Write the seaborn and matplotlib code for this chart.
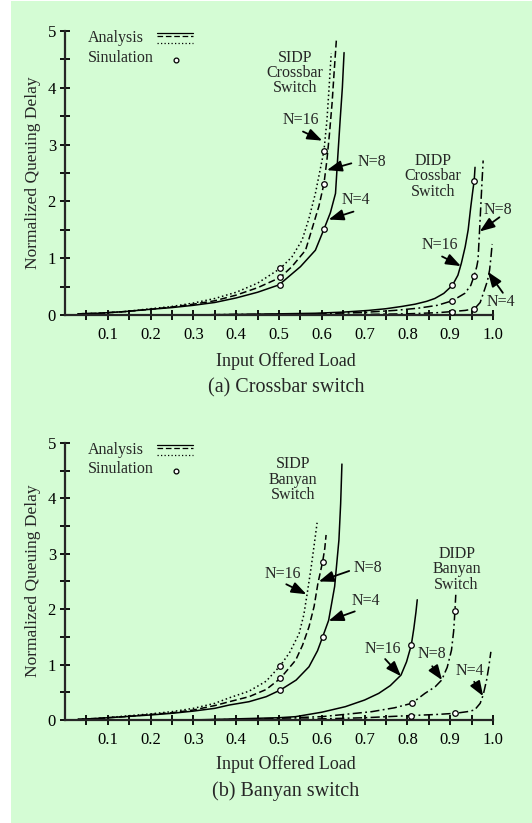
import numpy as np
import pandas as pd
import matplotlib
matplotlib.use('Agg')
import matplotlib.pyplot as plt
import seaborn as sns
from matplotlib.patches import Rectangle

# ── data ─────────────────────────────────────────────────────────
# (a) crossbar switch, SIDP analysis curves
xa_s4_x = [0.03, 0.08, 0.14, 0.2, 0.25, 0.3, 0.35, 0.4, 0.45, 0.5, 0.55, 0.585, 0.605, 0.62, 0.632, 0.637, 0.643, 0.648, 0.652]
xa_s4_y = [0.02, 0.03, 0.06, 0.10, 0.13, 0.17, 0.22, 0.30, 0.40, 0.53, 0.85, 1.14, 1.51, 1.80, 2.14, 2.75, 3.45, 4.0, 4.62]
xa_s8_x = [0.03, 0.08, 0.14, 0.2, 0.25, 0.3, 0.35, 0.4, 0.45, 0.503, 0.53, 0.562, 0.593, 0.605, 0.612, 0.618, 0.624, 0.629, 0.634]
xa_s8_y = [0.02, 0.03, 0.06, 0.10, 0.14, 0.19, 0.25, 0.35, 0.48, 0.66, 0.85, 1.14, 1.91, 2.31, 2.73, 3.2, 3.73, 4.3, 4.84]
xa_s16_x = [0.03, 0.08, 0.14, 0.2, 0.25, 0.3, 0.35, 0.4, 0.45, 0.503, 0.53, 0.554, 0.57, 0.585, 0.605, 0.612, 0.617, 0.622]
xa_s16_y = [0.02, 0.03, 0.06, 0.11, 0.15, 0.21, 0.29, 0.40, 0.56, 0.82, 1.02, 1.32, 1.7, 2.14, 2.89, 3.43, 4.0, 4.61]
# (a) crossbar switch, DIDP analysis curves
xa_d16_x = [0.3, 0.4, 0.5, 0.585, 0.65, 0.709, 0.75, 0.787, 0.818, 0.845, 0.864, 0.885, 0.905, 0.918, 0.926, 0.935, 0.942, 0.948, 0.953, 0.956, 0.958]
xa_d16_y = [0.0, 0.01, 0.02, 0.03, 0.05, 0.08, 0.11, 0.15, 0.19, 0.24, 0.29, 0.38, 0.52, 0.7, 0.91, 1.2, 1.5, 1.9, 2.2, 2.36, 2.6]
xa_d8_x = [0.3, 0.4, 0.5, 0.6, 0.709, 0.77, 0.826, 0.87, 0.905, 0.934, 0.948, 0.956, 0.962, 0.965, 0.968, 0.971, 0.974, 0.977]
xa_d8_y = [0.0, 0.01, 0.01, 0.02, 0.05, 0.08, 0.12, 0.17, 0.25, 0.38, 0.52, 0.69, 0.85, 0.97, 1.4, 1.85, 2.3, 2.72]
xa_d4_x = [0.3, 0.5, 0.7, 0.8, 0.87, 0.905, 0.935, 0.957, 0.97, 0.98, 0.987, 0.992, 0.995, 0.998]
xa_d4_y = [0.0, 0.0, 0.01, 0.02, 0.04, 0.06, 0.08, 0.11, 0.22, 0.44, 0.6, 0.79, 1.0, 1.25]
# (a) simulation points
xa_sim_sidp_x = [0.503, 0.605]
xa_sim_s16 = [0.82, 2.89]
xa_sim_s8 = [0.66, 2.31]
xa_sim_s4 = [0.52, 1.51]
xa_sim_didp_x = [0.905, 0.956]
xa_sim_d16 = [0.52, 2.36]
xa_sim_d8 = [0.25, 0.69]
xa_sim_d4 = [0.06, 0.11]

# (b) banyan switch, SIDP analysis curves
bn_s4_x = [0.03, 0.08, 0.14, 0.2, 0.25, 0.3, 0.35, 0.384, 0.43, 0.47, 0.503, 0.54, 0.57, 0.59, 0.602, 0.616, 0.63, 0.64, 0.644, 0.647]
bn_s4_y = [0.01, 0.03, 0.06, 0.09, 0.12, 0.16, 0.21, 0.27, 0.33, 0.42, 0.54, 0.72, 0.96, 1.25, 1.50, 1.8, 2.41, 3.25, 3.9, 4.62]
bn_s8_x = [0.03, 0.08, 0.14, 0.2, 0.25, 0.3, 0.35, 0.384, 0.43, 0.47, 0.503, 0.539, 0.555, 0.57, 0.582, 0.591, 0.602, 0.607, 0.61]
bn_s8_y = [0.01, 0.03, 0.06, 0.10, 0.13, 0.18, 0.26, 0.33, 0.42, 0.55, 0.75, 1.08, 1.35, 1.68, 2.05, 2.47, 2.86, 3.1, 3.34]
bn_s16_x = [0.03, 0.08, 0.14, 0.2, 0.25, 0.3, 0.35, 0.384, 0.43, 0.47, 0.503, 0.525, 0.547, 0.558, 0.566, 0.575, 0.582, 0.589]
bn_s16_y = [0.01, 0.03, 0.07, 0.11, 0.15, 0.21, 0.30, 0.40, 0.52, 0.70, 0.98, 1.22, 1.56, 1.9, 2.29, 2.75, 3.15, 3.56]
# (b) banyan switch, DIDP analysis curves
bn_d16_x = [0.3, 0.4, 0.5, 0.539, 0.6, 0.655, 0.7, 0.733, 0.76, 0.785, 0.798, 0.809, 0.815, 0.82, 0.823]
bn_d16_y = [0.0, 0.02, 0.04, 0.06, 0.14, 0.24, 0.36, 0.48, 0.62, 0.81, 1.05, 1.35, 1.65, 1.95, 2.17]
bn_d8_x = [0.3, 0.4, 0.5, 0.6, 0.64, 0.717, 0.77, 0.81, 0.841, 0.865, 0.88, 0.893, 0.903, 0.908, 0.911, 0.913]
bn_d8_y = [0.0, 0.01, 0.03, 0.06, 0.09, 0.15, 0.22, 0.3, 0.48, 0.6, 0.72, 0.95, 1.26, 1.6, 1.96, 2.26]
bn_d4_x = [0.3, 0.5, 0.6, 0.7, 0.809, 0.87, 0.912, 0.94, 0.957, 0.97, 0.977, 0.985, 0.99, 0.995]
bn_d4_y = [0.0, 0.01, 0.02, 0.04, 0.08, 0.1, 0.12, 0.15, 0.18, 0.3, 0.45, 0.72, 0.95, 1.23]
# (b) simulation points
bn_sim_x = [0.503, 0.503, 0.503, 0.602, 0.602, 0.809, 0.81, 0.809, 0.911, 0.912]
bn_sim_y = [0.98, 0.75, 0.54, 2.86, 1.50, 1.35, 0.30, 0.08, 1.96, 0.12]

# axis ticks
x_major = [0.1, 0.2, 0.3, 0.4, 0.5, 0.6, 0.7, 0.8, 0.9, 1.0]
x_labels = ['0.1', '0.2', '0.3', '0.4', '0.5', '0.6', '0.7', '0.8', '0.9', '1.0']
x_minor = [0.05, 0.15, 0.25, 0.35, 0.45, 0.55, 0.65, 0.75, 0.85, 0.95]
y_major = [0, 1, 2, 3, 4, 5]
y_minor = [0.5, 1.5, 2.5, 3.5, 4.5]

# ── style ────────────────────────────────────────────────────────
sns.set_theme(style='ticks')
plt.rcParams['font.family'] = ['Liberation Serif', 'DejaVu Serif']

BG = '#d4fcd4'
DOT = (0, (1, 1.8))
DASH = (0, (4.5, 2.2))
DASHDOT = (0, (6, 2.2, 1.2, 2.2))


def curve(ax, x, y, ls):
    sns.lineplot(x=x, y=y, ax=ax, color='black', linewidth=1.1, linestyle=ls,
                 estimator=None, sort=False, clip_on=False)


def sim(ax, x, y):
    sns.scatterplot(x=x, y=y, ax=ax, marker='o', s=16, facecolor='white',
                    edgecolor='black', linewidth=0.9, zorder=5, clip_on=False)


def style_axes(ax):
    ax.set_xlim(0, 1.0)
    ax.set_ylim(0, 5)
    ax.set_facecolor('none')
    ax.spines['top'].set_visible(False)
    ax.spines['right'].set_visible(False)
    ax.spines['left'].set_linewidth(1.6)
    ax.spines['bottom'].set_linewidth(1.6)
    ax.set_xticks(x_major)
    ax.set_xticklabels(x_labels)
    ax.set_xticks(x_minor, minor=True)
    ax.set_yticks(y_major)
    ax.set_yticklabels([str(v) for v in y_major])
    ax.set_yticks(y_minor, minor=True)
    ax.tick_params(which='both', direction='inout', length=7, width=1.3,
                   colors='black', labelsize=12)
    ax.tick_params(axis='x', pad=5)
    ax.tick_params(axis='y', pad=3)
    ax.set_xlabel('')
    ax.set_ylabel('')
    # legend drawn by hand: three stacked analysis line styles + sim marker
    ax.text(0.053, 0.976, 'Analysis', transform=ax.transAxes, fontsize=11.5,
            ha='left', va='center')
    ax.text(0.053, 0.905, 'Sinulation', transform=ax.transAxes, fontsize=11.5,
            ha='left', va='center')
    for yy, ls in [(0.993, '-'), (0.982, DASH), (0.958, DOT)]:
        ax.plot([0.216, 0.298], [yy, yy], transform=ax.transAxes, color='black',
                linewidth=0.9, linestyle=ls, clip_on=False)
    ax.scatter([0.26], [0.898], transform=ax.transAxes, s=12, facecolor='white',
               edgecolor='black', linewidth=0.9, clip_on=False, zorder=5)


def label(ax, text, xy, tail=None, tip=None):
    ax.text(xy[0], xy[1], text, fontsize=11.5, ha='center', va='center',
            linespacing=0.95, clip_on=False)
    if tip is not None:
        ax.annotate('', xy=tip, xytext=tail, annotation_clip=False,
                    arrowprops=dict(arrowstyle='-|>,head_length=0.75,head_width=0.28',
                                    color='black', lw=1.3, mutation_scale=12,
                                    shrinkA=0, shrinkB=0))


fig = plt.figure(figsize=(5.32, 8.23), dpi=100, facecolor='white')
fig.add_artist(Rectangle((11 / 532, 0), 1 - 11 / 532, 1 - 1 / 823,
                         transform=fig.transFigure, facecolor=BG,
                         edgecolor='none', zorder=-10))

ax1 = fig.add_axes([0.1222, 0.6173, 0.8045, 0.3450])
ax2 = fig.add_axes([0.1222, 0.1252, 0.8045, 0.3365])

# ── (a) crossbar ─────────────────────────────────────────────────
curve(ax1, xa_s4_x, xa_s4_y, '-')
curve(ax1, xa_s8_x, xa_s8_y, DASH)
curve(ax1, xa_s16_x, xa_s16_y, DOT)
curve(ax1, xa_d16_x, xa_d16_y, '-')
curve(ax1, xa_d8_x, xa_d8_y, DASHDOT)
curve(ax1, xa_d4_x, xa_d4_y, DASHDOT)
sim(ax1, xa_sim_sidp_x * 3, xa_sim_s16 + xa_sim_s8 + xa_sim_s4)
sim(ax1, xa_sim_didp_x * 3, xa_sim_d16 + xa_sim_d8 + xa_sim_d4)
style_axes(ax1)

label(ax1, 'SIDP\nCrossbar\nSwitch', (0.537, 4.26))
label(ax1, 'N=16', (0.55, 3.43), (0.556, 3.23), (0.601, 3.07))
label(ax1, 'N=8', (0.717, 2.70), (0.669, 2.67), (0.612, 2.55))
label(ax1, 'N=4', (0.679, 2.02), (0.674, 1.82), (0.616, 1.68))
label(ax1, 'DIDP\nCrossbar\nSwitch', (0.86, 2.44))
label(ax1, 'N=16', (0.876, 1.24), (0.881, 1.03), (0.925, 0.86))
label(ax1, 'N=8', (1.012, 1.85), (1.015, 1.72), (0.969, 1.47))
label(ax1, 'N=4', (1.018, 0.22), (1.023, 0.39), (0.988, 0.76))

# ── (b) banyan ───────────────────────────────────────────────────
curve(ax2, bn_s4_x, bn_s4_y, '-')
curve(ax2, bn_s8_x, bn_s8_y, DASH)
curve(ax2, bn_s16_x, bn_s16_y, DOT)
curve(ax2, bn_d16_x, bn_d16_y, '-')
curve(ax2, bn_d8_x, bn_d8_y, DASHDOT)
curve(ax2, bn_d4_x, bn_d4_y, DASHDOT)
sim(ax2, bn_sim_x, bn_sim_y)
style_axes(ax2)

label(ax2, 'SIDP\nBanyan\nSwitch', (0.533, 4.34))
label(ax2, 'N=16', (0.508, 2.64), (0.517, 2.45), (0.564, 2.27))
label(ax2, 'N=8', (0.708, 2.75), (0.664, 2.69), (0.593, 2.50))
label(ax2, 'N=4', (0.703, 2.14), (0.677, 1.96), (0.616, 1.79))
label(ax2, 'DIDP\nBanyan\nSwitch', (0.915, 2.72))
label(ax2, 'N=16', (0.742, 1.29), (0.748, 1.10), (0.785, 0.79))
label(ax2, 'N=8', (0.857, 1.19), (0.858, 0.97), (0.881, 0.72))
label(ax2, 'N=4', (0.946, 0.88), (0.956, 0.69), (0.977, 0.43))

# ── axis titles and captions ─────────────────────────────────────
for ycap, yax, ymid, cap in [(0.5286, 0.5614, 1 - 173 / 823, '(a) Crossbar switch'),
                             (0.0389, 0.0717, 1 - 581 / 823, '(b) Banyan switch')]:
    fig.text(286 / 532, yax, 'Input Offered Load', fontsize=13, ha='center', va='center')
    fig.text(286 / 532, ycap, cap, fontsize=14.5, ha='center', va='center')
    fig.text(33 / 532, ymid, 'Normalized Queuing Delay', fontsize=12.5,
             rotation=90, ha='center', va='center')

fig.savefig('out.png', dpi=100, facecolor=fig.get_facecolor())
